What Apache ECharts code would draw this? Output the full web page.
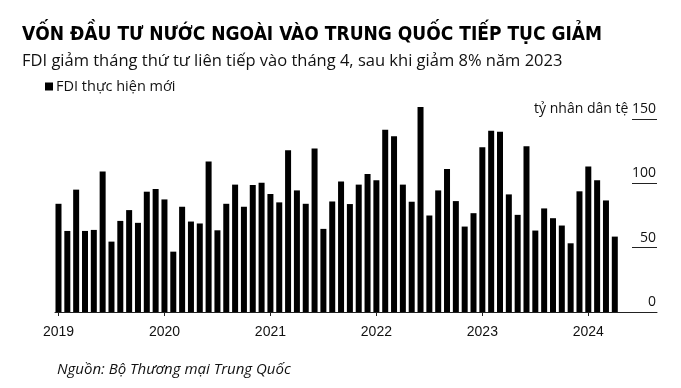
<!DOCTYPE html>
<html>
<head>
<meta charset="utf-8">
<script src="https://cdn.jsdelivr.net/npm/echarts@6/dist/echarts.min.js"></script>
<style>
html,body{margin:0;padding:0;background:#fff;}
#chart{width:681px;height:388px;}
</style>
</head>
<body>
<div id="chart"></div>
<script>
var titleText = 'VỐN ĐẦU TƯ NƯỚC NGOÀI VÀO TRUNG QUỐC TIẾP TỤC GIẢM';
var subtitleText = 'FDI giảm tháng thứ tư liên tiếp vào tháng 4, sau khi giảm 8% năm 2023';
var seriesName = 'FDI thực hiện mới';
var sourceText = 'Nguồn: Bộ Thương mại Trung Quốc';
var unitText = 'tỷ nhân dân tệ';

var months = [
  '2019-01','2019-02','2019-03','2019-04','2019-05','2019-06','2019-07','2019-08','2019-09','2019-10','2019-11','2019-12',
  '2020-01','2020-02','2020-03','2020-04','2020-05','2020-06','2020-07','2020-08','2020-09','2020-10','2020-11','2020-12',
  '2021-01','2021-02','2021-03','2021-04','2021-05','2021-06','2021-07','2021-08','2021-09','2021-10','2021-11','2021-12',
  '2022-01','2022-02','2022-03','2022-04','2022-05','2022-06','2022-07','2022-08','2022-09','2022-10','2022-11','2022-12',
  '2023-01','2023-02','2023-03','2023-04','2023-05','2023-06','2023-07','2023-08','2023-09','2023-10','2023-11','2023-12',
  '2024-01','2024-02','2024-03','2024-04'
];
var fdi = [
  84.1, 63.0, 95.1, 63.0, 63.8, 109.1, 54.7, 70.8, 79.2, 69.3, 93.5, 95.6,
  87.5, 46.9, 81.8, 70.3, 68.8, 116.9, 63.5, 84.1, 99.0, 81.8, 98.7, 100.5,
  91.7, 85.2, 125.8, 94.5, 84.1, 127.1, 64.6, 85.9, 101.5, 83.9, 99.0, 107.3,
  102.3, 141.7, 136.5, 99.0, 85.7, 159.4, 75.0, 94.5, 111.2, 86.2, 66.4, 76.8,
  128.1, 140.9, 140.1, 91.4, 75.5, 128.9, 63.3, 80.5, 72.9, 67.2, 53.4, 93.8,
  113.0, 102.3, 86.7, 58.6
];
var yearTicks = ['2019','2020','2021','2022','2023','2024'];
var yTicks = [0, 50, 100, 150];

var yearIdx = yearTicks.map(function (y) { return months.indexOf(y + '-01'); });

var chart = echarts.init(document.getElementById('chart'), null, {renderer: 'canvas'});
chart.setOption({
  animation: false,
  backgroundColor: '#fff',
  grid: {left: 55, top: 119, width: 602, height: 193, containLabel: false},
  legend: {
    data: [seriesName],
    left: 40, top: 74,
    icon: 'rect', itemWidth: 8, itemHeight: 8,
    textStyle: {fontFamily: 'Open Sans', fontSize: 14.5, color: '#111', padding: [0,0,0,-2]}
  },
  xAxis: {
    type: 'value',
    min: -0.396, max: 67.78,
    splitLine: {show: false},
    axisLine: {show: true, onZero: false, lineStyle: {color: '#222', width: 1}},
    axisTick: {show: true, length: 4, customValues: yearIdx, lineStyle: {color: '#222', width: 1}},
    axisLabel: {
      customValues: yearIdx, margin: 13,
      fontFamily: 'Liberation Sans', fontSize: 14, color: '#111',
      formatter: function (v) { return yearTicks[yearIdx.indexOf(Math.round(v))]; }
    }
  },
  yAxis: {
    type: 'value', position: 'right',
    min: 0, max: 150, interval: 50,
    splitLine: {show: false},
    axisLine: {show: false, onZero: false},
    axisTick: {show: true, inside: true, length: 25, lineStyle: {color: '#222', width: 1}},
    axisLabel: {
      inside: true, margin: 1, verticalAlign: 'bottom',
      fontFamily: 'Open Sans', fontSize: 14, color: '#111',
      padding: [0, 0, 3, 0],
      formatter: function (v) { return v === yTicks[yTicks.length - 1] ? unitText + ' ' + v : String(v); }
    }
  },
  series: [{
    name: seriesName,
    type: 'bar',
    barWidth: 6,
    clip: false,
    itemStyle: {color: '#000'},
    data: fdi.map(function (v, i) { return [i, v]; })
  }],
  graphic: [
    {type: 'text', left: 22, top: 26, style: {text: titleText, font: 'bold 19px "Liberation Sans Narrow", "DejaVu Sans Condensed", sans-serif', fill: '#000'}},
    {type: 'text', left: 22, top: 53, style: {text: subtitleText, font: '16.5px "Open Sans", sans-serif', fill: '#111'}},
    {type: 'text', left: 57, top: 362, style: {text: sourceText, font: 'italic 15px "Open Sans", sans-serif', fill: '#111'}}
  ]
});
</script>
</body>
</html>
